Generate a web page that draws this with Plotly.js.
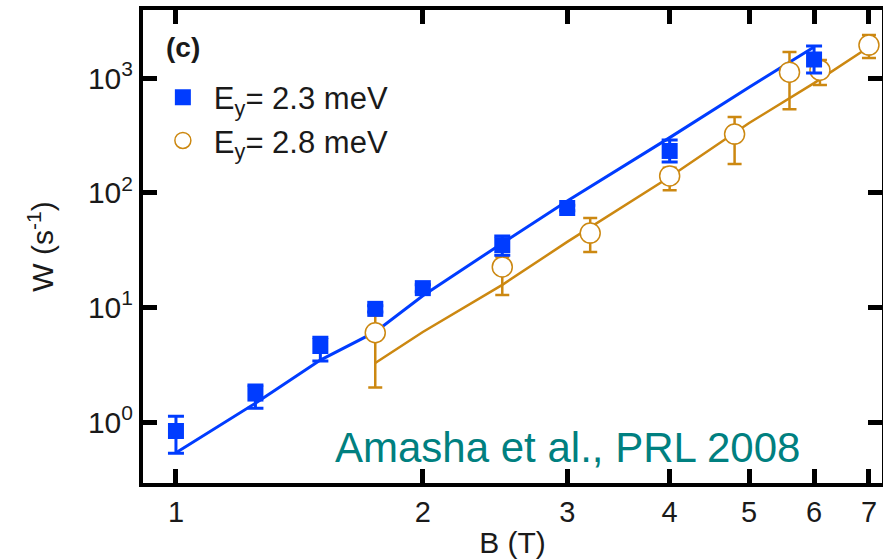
<!DOCTYPE html>
<html>
<head>
<meta charset="utf-8">
<script src="https://cdn.plot.ly/plotly-3.0.1.min.js"></script>
<style>html,body{margin:0;padding:0;background:#fff;}#chart{width:883px;height:560px;}</style>
</head>
<body>
<div id="chart"></div>
<script>
// Measured data, E_y = 2.3 meV (blue squares)
var blueB = [1.0, 1.25, 1.5, 1.75, 2.0, 2.5, 3.0, 4.0, 6.0];
var blueW = [0.835, 1.77, 4.6, 9.7, 14.7, 34.9, 73.5, 231, 1450];
var blueErrPlus = [0.29, 0.33, 0.88, 0.6, 1.0, 7.0, 4.0, 57, 450];
var blueErrMinus = [0.30, 0.45, 1.2, 0.6, 1.0, 6.5, 4.0, 46, 345];

// Measured data, E_y = 2.8 meV (orange circles)
var orangeB = [1.75, 2.5, 3.2, 4.0, 4.8, 5.6, 6.1, 7.0];
var orangeW = [6.0, 22.5, 44.4, 140, 324, 1125, 1170, 1936];
var orangeErrPlus = [2.5, 5.0, 15.6, 25, 133, 560, 265, 435];
var orangeErrMinus = [4.0, 9.7, 14.0, 35, 146, 590, 300, 443];

// Fit curves
var blueFitB = [1.0, 1.25, 1.5, 1.75, 2.0, 2.5, 3.0, 4.0, 5.0, 6.0];
var blueFitW = [0.54, 1.46, 3.47, 6.1, 12.6, 36.3, 84.5, 302, 832, 1860];
var orangeFitB = [1.75, 2.0, 2.5, 3.0, 4.0, 5.0, 6.0, 7.0];
var orangeFitW = [3.27, 6.1, 15.7, 37.2, 137, 405, 902, 1862];

// Tick labels
var xTickVals = [1, 2, 3, 4, 5, 6, 7];
var xTickText = ['1', '2', '3', '4', '5', '6', '7'];
var yTickVals = [1, 10, 100, 1000];
var yTickText = ['10<sup>0</sup>', '10<sup>1</sup>', '10<sup>2</sup>', '10<sup>3</sup>'];

var seriesNames = ['E<sub>y</sub>= 2.3 meV', 'E<sub>y</sub>= 2.8 meV'];

var BLUE = 'rgb(0,60,255)';
var ORANGE = 'rgb(204,136,17)';
var FONT = 'Liberation Sans, Arial, Helvetica, sans-serif';

var traces = [
  {x: blueFitB, y: blueFitW, mode: 'lines', line: {color: BLUE, width: 3}, showlegend: false, hoverinfo: 'skip'},
  {x: orangeFitB, y: orangeFitW, mode: 'lines', line: {color: ORANGE, width: 2.5}, showlegend: false, hoverinfo: 'skip'},
  {x: orangeB, y: orangeW, mode: 'markers', name: seriesNames[1], legendrank: 2,
   marker: {symbol: 'circle', size: 20, color: 'white', line: {color: ORANGE, width: 1.5}},
   error_y: {type: 'data', symmetric: false, array: orangeErrPlus, arrayminus: orangeErrMinus, color: ORANGE, thickness: 2.5, width: 7}},
  {x: blueB, y: blueW, mode: 'markers', name: seriesNames[0], legendrank: 1,
   marker: {symbol: 'square', size: 16, color: BLUE},
   error_y: {type: 'data', symmetric: false, array: blueErrPlus, arrayminus: blueErrMinus, color: BLUE, thickness: 3, width: 8}}
];

var axisCommon = {
  type: 'log', showgrid: false, zeroline: false,
  showline: true, linewidth: 4, linecolor: 'black', mirror: 'ticks',
  ticks: 'inside', ticklen: 14, tickwidth: 5, tickcolor: 'black'
};

var layout = {
  width: 883, height: 560,
  margin: {l: 143, r: 1, t: 10, b: 77},
  paper_bgcolor: 'white', plot_bgcolor: 'white',
  font: {family: FONT, color: '#1a1a1a'},
  xaxis: Object.assign({}, axisCommon, {
    range: [-0.0402, 0.861], tickmode: 'array', tickvals: xTickVals, ticktext: xTickText,
    tickfont: {family: FONT, size: 29, color: '#1a1a1a'},
    title: {text: 'B (T)', font: {family: FONT, size: 30, color: '#1a1a1a'}, standoff: 6}
  }),
  yaxis: Object.assign({}, axisCommon, {
    range: [-0.532, 3.593], tickmode: 'array', tickvals: yTickVals, ticktext: yTickText,
    tickfont: {family: FONT, size: 30, color: '#1a1a1a'},
    title: {text: 'W (s<sup>-1</sup>)', font: {family: FONT, size: 30, color: '#1a1a1a'}, standoff: 26}
  }),
  showlegend: true,
  legend: {x: 0.012, y: 0.872, xanchor: 'left', yanchor: 'top', bgcolor: 'rgba(0,0,0,0)',
           itemwidth: 52, tracegroupgap: 0,
           font: {family: FONT, size: 31, color: '#1a1a1a'}},
  annotations: [
    {xref: 'paper', yref: 'paper', x: 0.054, y: 0.92, xanchor: 'center', yanchor: 'middle',
     text: '<b>(c)</b>', showarrow: false,
     font: {family: FONT, size: 28, color: '#1a1a1a'}},
    {xref: 'paper', yref: 'paper', x: 0.575, y: 0.074, xanchor: 'center', yanchor: 'middle',
     text: 'Amasha et al., PRL 2008', showarrow: false,
     font: {family: FONT, size: 42, color: 'rgb(0,128,128)'}}
  ]
};

Plotly.newPlot('chart', traces, layout, {displayModeBar: false, staticPlot: true});
</script>
</body>
</html>
